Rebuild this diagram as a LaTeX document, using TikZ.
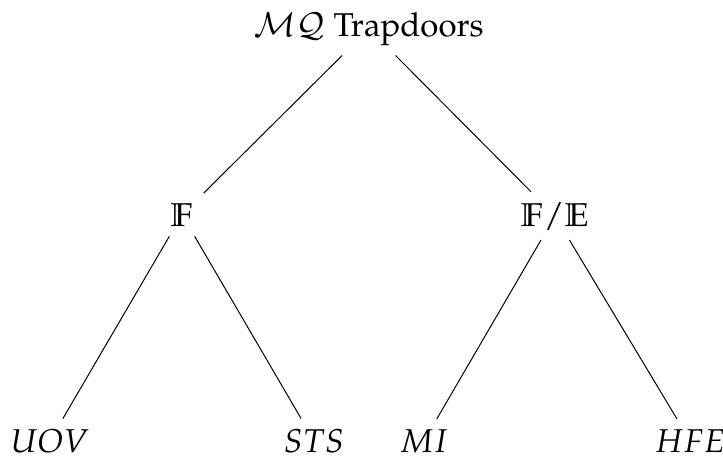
\documentclass[tikz,border=0pt]{standalone}
\usepackage[T1]{fontenc}
\usepackage{mathpazo}
\usepackage{amssymb}
\begin{document}
\begin{tikzpicture}[x=1pt,y=-1pt,
  tn/.style={anchor=base,inner sep=10pt,font=\fontsize{33}{40}\selectfont},
  edge/.style={line width=1pt}]
\useasboundingbox (0,0) rectangle (723,459);
\node[tn] (root) at (369,36) {$\mathcal{MQ}$ Trapdoors};
\node[tn] (F) at (182,226) {$\mathbb{F}$};
\node[tn] (FE) at (555,226) {$\mathbb{F}/\mathbb{E}$};
\node[tn] (uov) at (50,452) {$UOV$};
\node[tn] (sts) at (314,452) {$STS$};
\node[tn] (mi) at (424,452) {$MI$};
\node[tn] (hfe) at (690,452) {$HFE$};
\draw[edge] (root) -- (F);
\draw[edge] (root) -- (FE);
\draw[edge] (F) -- (uov);
\draw[edge] (F) -- (sts);
\draw[edge] (FE) -- (mi);
\draw[edge] (FE) -- (hfe);
\end{tikzpicture}
\end{document}
